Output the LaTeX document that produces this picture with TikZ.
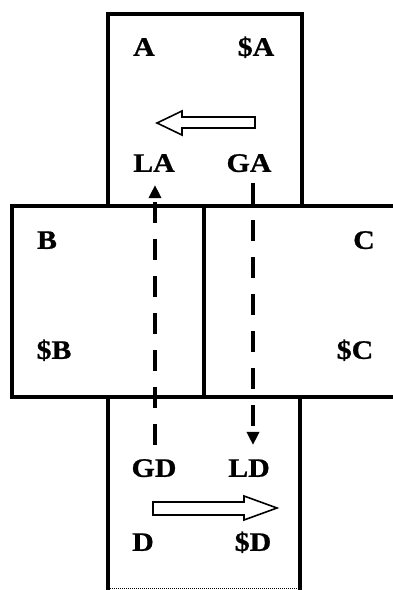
\documentclass[tikz,border=0pt]{standalone}
\usepackage{fontspec}
\setmainfont[FakeStretch=1.12]{Liberation Serif}
\usetikzlibrary{arrows.meta}

\begin{document}
\begin{tikzpicture}[x=1pt,y=-1pt,
  frame/.style={line width=4.3pt},
  lbl/.style={font=\fontsize{26.7}{30}\selectfont\bfseries\addfontfeature{FakeBold=0.8},
              inner sep=0pt, text height=17.7pt, text depth=0pt},
  flow/.style={line width=4pt, dash pattern=on 21pt off 16pt,
               -{Triangle[width=12pt,length=13pt]}},
  hollow/.style={draw, line width=1.6pt, fill=white, line join=miter}]
\useasboundingbox (0,0) rectangle (393,590);

% the four regions
\draw[frame] (108,14) rectangle (302,206);
\draw[frame] (12,206) rectangle (204,397);
\draw[frame] (204,206) rectangle (396,397);
\draw[frame] (108,592) -- (108,397) -- (300,397) -- (300,592);
\draw[line width=1pt, densely dotted] (108,588) -- (300,588);

% labels
\node[lbl] (A)  at (144,47)  {A};
\node[lbl] (SA) at (256,47)  {\$A};
\node[lbl] (LA) at (154,163) {LA};
\node[lbl] (GA) at (249,163) {GA};
\node[lbl] (B)  at (47,240)  {B};
\node[lbl] (SB) at (54,350)  {\$B};
\node[lbl] (C)  at (364,240) {C};
\node[lbl] (SC) at (355,350) {\$C};
\node[lbl] (GD) at (154,468) {GD};
\node[lbl] (LD) at (249,468) {LD};
\node[lbl] (D)  at (143,542) {D};
\node[lbl] (SD) at (253,542) {\$D};

% dashed flows between regions A and D
\draw[flow] ([xshift=1pt,yshift=14pt]GD.north) -- ([xshift=1pt,yshift=-13pt]LA.south);
\draw[flow] ([xshift=4pt,yshift=-11pt]GA.south) -- ([xshift=4pt,yshift=14pt]LD.north);

% hollow arrows
\draw[hollow] (255,117) -- (182,117) -- (182,111) -- (157,123) -- (182,135)
              -- (182,128) -- (255,128) -- cycle;
\draw[hollow] (153,502) -- (244,502) -- (244,496) -- (277,508) -- (244,520)
              -- (244,515) -- (153,515) -- cycle;
\end{tikzpicture}
\end{document}
